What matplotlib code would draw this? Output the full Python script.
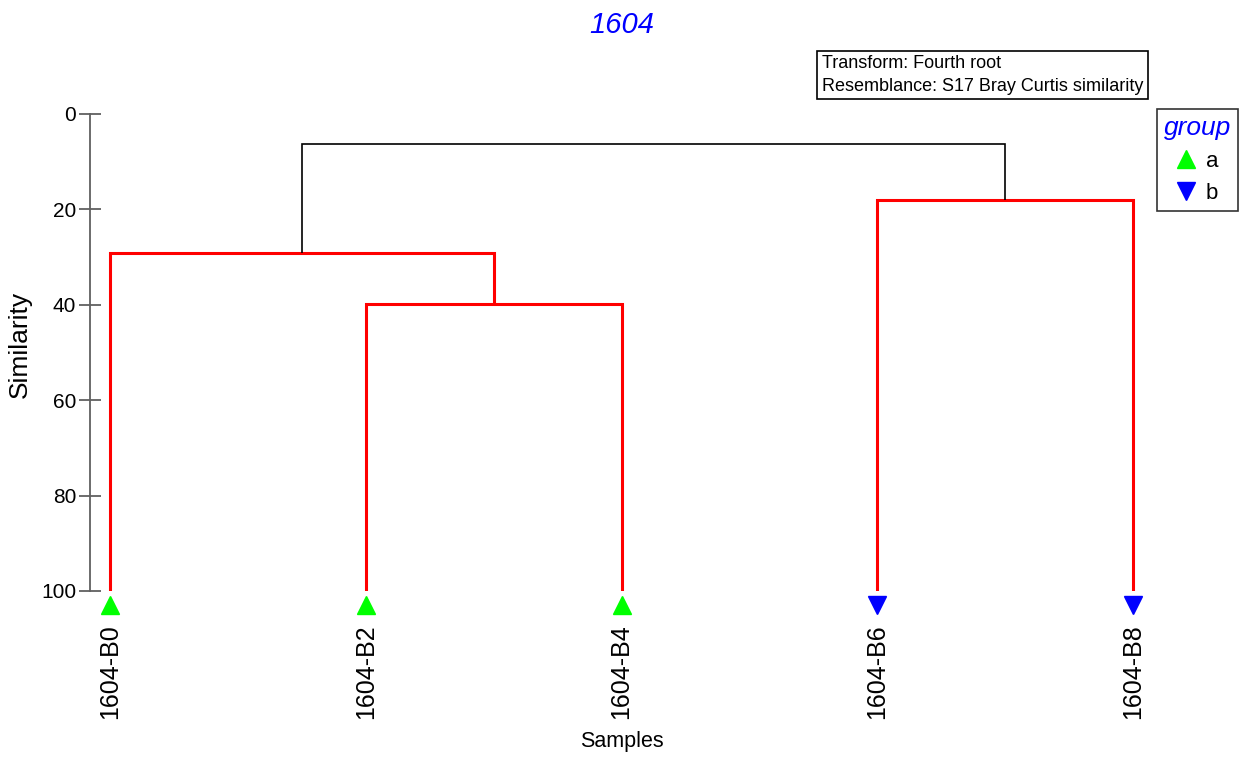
import matplotlib.pyplot as plt
from matplotlib.lines import Line2D

plt.rcParams['font.family'] = ['Liberation Sans', 'DejaVu Sans']

# leaves (left to right) and their groups
samples = ['1604-B0', '1604-B2', '1604-B4', '1604-B6', '1604-B8']
groups = ['a', 'a', 'a', 'b', 'b']
# merges: (left node, right node, similarity level, colour)
merges = [
    (1, 2, 39.8, 'red'),    # node 5
    (0, 5, 29.1, 'red'),    # node 6
    (3, 4, 18.0, 'red'),    # node 7
    (6, 7, 6.3, 'black'),   # node 8
]
group_style = {'a': ('^', '#00ff00'), 'b': ('v', '#0000ff')}

fig = plt.figure(figsize=(12.48, 7.59), dpi=100)
W, H = 1248, 759
ax = fig.add_axes([90 / W, 1 - 591 / H, (1160 - 90) / W, (591 - 114) / H])

xpos = {i: float(i) for i in range(len(samples))}
ypos = {i: 100.0 for i in range(len(samples))}
n = len(samples)
for k, (a, b, h, c) in enumerate(merges):
    lw = 2.2 if c == 'red' else 1.2
    ax.plot([xpos[a], xpos[a], xpos[b], xpos[b]], [ypos[a], h, h, ypos[b]],
            color=c, lw=lw, solid_capstyle='butt', solid_joinstyle='miter')
    xpos[n + k] = (xpos[a] + xpos[b]) / 2
    ypos[n + k] = h

for i, g in enumerate(groups):
    m, col = group_style[g]
    ax.plot(i, 103.0, marker=m, color=col, ms=13, ls='none', clip_on=False)

ax.set_xlim(-20 / 255.75, (1160 - 110) / 255.75)
ax.set_ylim(100, 0)
ax.set_yticks([0, 20, 40, 60, 80, 100])
ax.tick_params(axis='y', direction='inout', length=16, width=1.3, color='#606060',
               labelsize=15, pad=2)
ax.set_xticks(range(len(samples)))
ax.set_xticklabels(samples, rotation=90, fontsize=18)
ax.tick_params(axis='x', length=0, pad=24)
for s in ['top', 'right', 'bottom']:
    ax.spines[s].set_visible(False)
ax.spines['left'].set_color('#606060')
ax.spines['left'].set_linewidth(1.3)

fig.text(20 / W, 1 - 344 / H, 'Similarity', fontsize=19, rotation=90,
         ha='center', va='center')
fig.text(622 / W, 1 - 741 / H, 'Samples', fontsize=15.5, ha='center', va='center')
fig.text(622 / W, 1 - 25 / H, '1604', fontsize=21, style='italic', color='#0000ff',
         ha='center', va='center')

fig.text(822 / W, 1 - 75 / H, 'Transform: Fourth root\nResemblance: S17 Bray Curtis similarity',
         fontsize=13, ha='left', va='center', linespacing=1.45,
         bbox=dict(boxstyle='square,pad=0.25', fc='white', ec='black', lw=1.2))

handles = [Line2D([], [], marker=group_style[g][0], color=group_style[g][1], ls='none', ms=13)
           for g in ['a', 'b']]
leg = fig.legend(handles, ['a', 'b'], title='group', loc='upper right',
                 bbox_to_anchor=(1238 / W, 1 - 109 / H), fontsize=16, frameon=True,
                 fancybox=False, edgecolor='black', handlelength=0.8, handletextpad=0.5,
                 borderpad=0.3, labelspacing=0.5, borderaxespad=0)
leg.get_frame().set_linewidth(1.2)
leg.get_title().set_fontsize(19)
leg.get_title().set_color('#0000ff')
leg.get_title().set_style('italic')

fig.savefig('out.png', dpi=100)
